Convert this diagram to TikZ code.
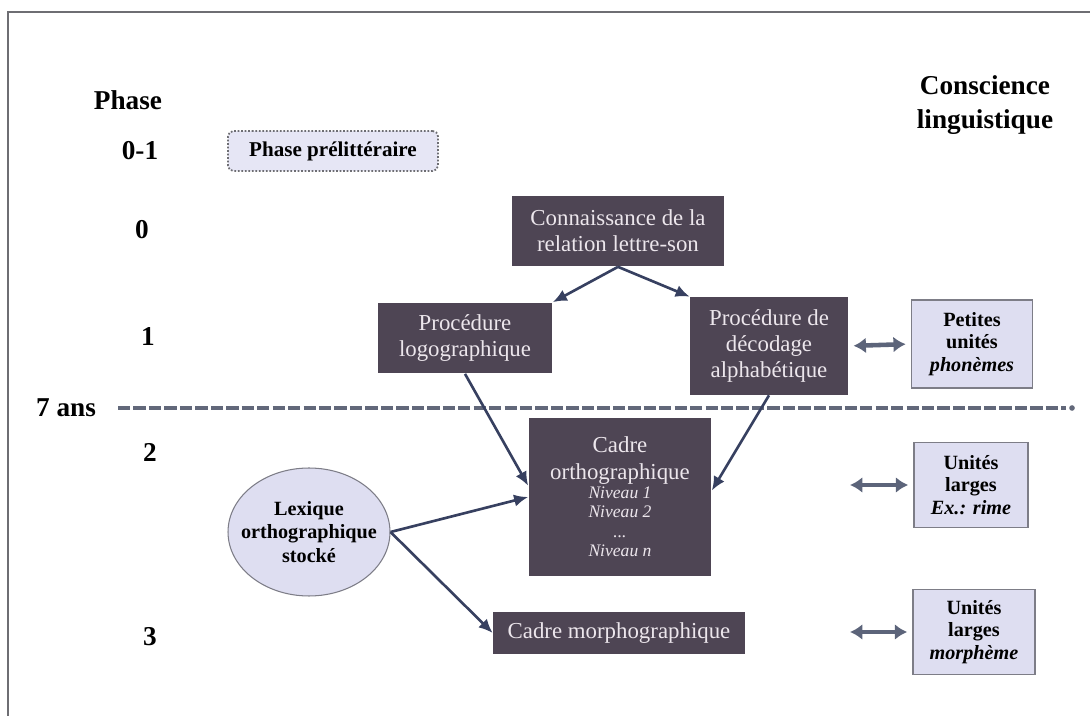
\documentclass[tikz,border=0pt]{standalone}
\usepackage{fontspec}
\setmainfont{Liberation Serif}
\usepackage{tikz}
\usetikzlibrary{arrows.meta}
\usetikzlibrary{calc}
\usetikzlibrary{shapes.geometric}

\definecolor{procfill}{RGB}{78,69,84}
\definecolor{proctext}{RGB}{236,230,236}
\definecolor{unitfill}{RGB}{222,222,241}
\definecolor{unitline}{RGB}{125,125,135}
\definecolor{prefill}{RGB}{230,230,245}
\definecolor{linkcol}{RGB}{55,64,96}
\definecolor{twocol}{RGB}{92,100,122}
\definecolor{dashcol}{RGB}{98,104,122}
\definecolor{framecol}{RGB}{110,110,115}

\newcommand{\niv}[1]{{\fontsize{10}{11}\selectfont\itshape #1}}

\begin{document}
\begin{tikzpicture}[x=0.02cm,y=-0.02cm,
	procbox/.style={fill=procfill,text=proctext,align=center,inner sep=0pt,font=\fontsize{13}{15}\selectfont},
	unitbox/.style={fill=unitfill,draw=unitline,line width=0.6pt,align=center,inner sep=0pt,
		minimum width=2.4cm,minimum height=1.7cm,font=\fontsize{11.5}{13}\selectfont\bfseries},
	phaselab/.style={font=\fontsize{15.5}{19}\selectfont\bfseries},
	link/.style={draw=linkcol,line width=1.5pt,-{Latex[length=8pt,width=7pt]}},
	twoway/.style={draw=twocol,line width=2.6pt,{Latex[length=7pt,width=9pt]}-{Latex[length=7pt,width=9pt]},
		shorten >=3pt,shorten <=3pt}]
	\useasboundingbox (0,0) rectangle (1090,716);
	% cadre de la figure
	\draw[framecol,line width=1.2pt] (8,716) -- (8,12) -- (1090,12);

	% colonnes
	\node[phaselab] (phase) at (128,100) {Phase};
	\node[phaselab,align=center] (consc) at (985,105) {Conscience\\linguistique};
	\foreach \lab/\px/\py [count=\i] in {0-1/140/151, 0/142/230, 1/148/337, 2/150/452, 3/150/637} {
		\node[phaselab] (ph\i) at (\px,\py) {\lab};
	}
	\node[phaselab] (septans) at (66,408) {7 ans};
	\coordinate (dashL) at (118,408);
	\coordinate (dashR) at (1066,408);
	\draw[dashcol,line width=2.4pt,dash pattern=on 7pt off 1.8pt] (dashL) -- (dashR);
	\fill[dashcol] (1072,408) circle (1.6pt);

	% procedures
	\node[draw=framecol,densely dotted,line width=1pt,rounded corners=3pt,fill=prefill,
		minimum width=4.2cm,minimum height=0.8cm,font=\fontsize{12}{14}\selectfont\bfseries] (pre) at (333,151) {Phase prélittéraire};
	\node[procbox,minimum width=4.26cm,minimum height=1.42cm] (conn) at (618,231) {Connaissance de la\\relation lettre-son};
	\node[procbox,minimum width=3.5cm,minimum height=1.42cm] (logo) at (465,338) {Procédure\\logographique};
	\node[procbox,minimum width=3.16cm,minimum height=1.96cm] (deco) at (769,346) {Procédure de\\décodage\\alphabétique};
	\node[procbox,minimum width=3.66cm,minimum height=3.18cm] (cadre) at (620,497)
		{Cadre\\orthographique\\[-4pt]\niv{Niveau 1}\\[-4pt]\niv{Niveau 2}\\[-4pt]\niv{...}\\[-4pt]\niv{Niveau n}};
	\node[procbox,minimum width=5.04cm,minimum height=0.86cm] (morpho) at (619,633) {Cadre morphographique};
	\node[ellipse,fill=unitfill,draw=unitline,line width=0.6pt,align=center,inner xsep=-10pt,inner ysep=0pt,
		minimum width=3.24cm,minimum height=2.56cm,font=\fontsize{11.5}{13.3}\selectfont\bfseries] (lex) at (309,532)
		{Lexique\\orthographique\\stocké};

	% unites
	\node[unitbox,minimum width=2.42cm,minimum height=1.76cm] (petites) at (972,344) {Petites\\unités\\\textit{phonèmes}};
	\node[unitbox,minimum width=2.28cm] (rime) at (971,485) {Unités\\larges\\\textit{Ex.: rime}};
	\node[unitbox,minimum width=2.44cm] (morpheme) at (974,632) {Unités\\larges\\\textit{morphème}};

	% fleches
	\draw[link] (conn.south) -- (logo.north east);
	\draw[link] (conn.south) -- (deco.north west);
	\draw[link] (logo.south) -- (cadre.173);
	\draw[link] (deco.south) -- (cadre.4);
	\draw[link] (lex.east) -- (cadre.west);
	\draw[link] (lex.east) -- (morpho.west);

	\coordinate (rimeL) at (850,485);
	\coordinate (morphL) at (850,632);
	\draw[twoway] (deco.east) -- (petites.west);
	\draw[twoway,shorten <=0pt] (rimeL) -- (rime.west);
	\draw[twoway,shorten <=0pt] (morphL) -- (morpheme.west);
\end{tikzpicture}
\end{document}
